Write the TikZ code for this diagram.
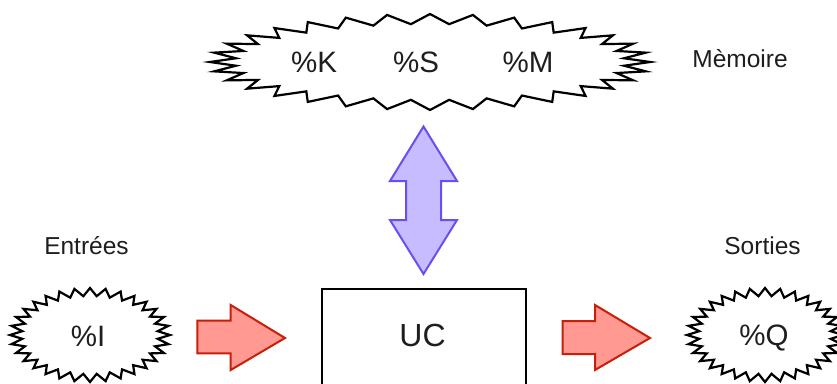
\documentclass[tikz,border=0pt]{standalone}
\usepackage{fontspec}
\setmainfont{Liberation Sans}
\definecolor{txt}{HTML}{1E1E1E}
\definecolor{redfill}{RGB}{255,153,145}
\definecolor{redline}{RGB}{200,30,10}
\definecolor{violetfill}{RGB}{198,188,255}
\definecolor{violetline}{RGB}{104,80,240}
\tikzset{
  burst/.style={draw=black, line width=2.2pt, line join=miter, fill=white},
  bigarrow/.style={draw=redline, fill=redfill, line width=2pt, line join=miter},
  twoway/.style={draw=violetline, fill=violetfill, line width=2pt, line join=miter},
  label/.style={anchor=base, text=txt, font=\fontsize{24.5}{29}\selectfont, inner sep=0pt},
  regtext/.style={anchor=base, text=txt, font=\fontsize{29.5}{34}\selectfont, inner sep=0pt},
  unitbox/.style={draw=black, line width=2pt}
}
% zigzag outline around an ellipse: centre (#1,#2), outer radii #3,#4,
% spike depths #5,#6, 32 spikes
\newcommand\zigzagburst[6]{%
  \draw[burst] ({#1+#3},#2)
    \foreach \k in {1,...,63} {
      -- ({#1+(#3-#5*mod(\k,2))*cos(\k*5.625)}, {#2-(#4-#6*mod(\k,2))*sin(\k*5.625)})
    } -- cycle;}
\begin{document}
\begin{tikzpicture}[x=1pt, y=-1pt]
  \clip (0,0) rectangle (837,383);
  \fill[white] (0,0) rectangle (837,383);

  % memory area
  \zigzagburst{430}{62}{220}{48}{25}{10}
  \node[regtext] (k) at (314,72) {\%K};
  \node[regtext] (s) at (416,72) {\%S};
  \node[regtext] (m) at (528,72) {\%M};
  \node[label] (mem) at (740,67.7) {Mèmoire};

  % two-way transfer between memory and the processing unit
  \draw[twoway] (423.5,126.5) -- (457,181) -- (441,181) -- (441,220) -- (457,220)
    -- (423.5,274) -- (390,220) -- (406,220) -- (406,181) -- (390,181) -- cycle;

  % inputs
  \zigzagburst{90}{335}{80}{47}{12}{8}
  \node[regtext] (i) at (88,346) {\%I};
  \node[label] (in) at (86.5,254.3) {Entrées};

  % outputs
  \zigzagburst{765}{335}{78}{47}{12}{8}
  \node[regtext] (q) at (764,345) {\%Q};
  \node[label] (out) at (762.5,254.3) {Sorties};

  % processing unit
  \draw[unitbox] (322,289.3) rectangle (525.7,400);
  \node[regtext, font=\fontsize{32}{37}\selectfont] (uc) at (422.5,346.7) {UC};

  % flow arrows
  \draw[bigarrow] (197.3,320.7) -- (230.7,320.7) -- (230.7,305) -- (285,338)
    -- (230.7,370) -- (230.7,353.3) -- (197.3,353.3) -- cycle;
  \draw[bigarrow] (562.7,321) -- (595,321) -- (595,305) -- (650,338)
    -- (595,370) -- (595,354) -- (562.7,354) -- cycle;
\end{tikzpicture}
\end{document}
